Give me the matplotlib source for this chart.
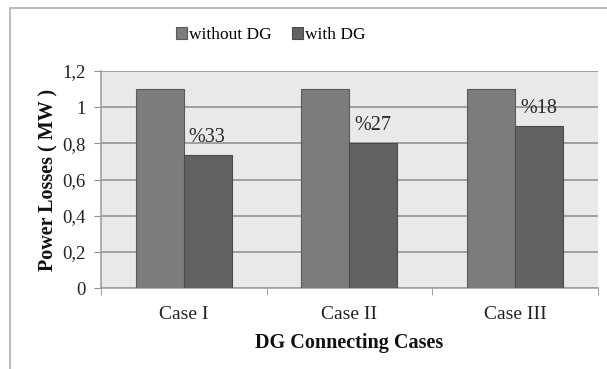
import matplotlib.pyplot as plt
from matplotlib.patches import Rectangle
import numpy as np

# Power losses per connecting case
cases = ['Case I', 'Case II', 'Case III']
without_dg = [1.1, 1.1, 1.1]
with_dg = [0.735, 0.80, 0.895]
reduction = ['%33', '%27', '%18']

plt.rcParams['font.family'] = 'Liberation Serif'

fig = plt.figure(figsize=(6.07, 3.69), dpi=100)
ax = fig.add_axes([0.1664, 0.2195, 0.8186, 0.588])

# outer chart frame
fig.patches.append(Rectangle((10 / 607, -0.1), 1.2, 1 - 8 / 369 + 0.1,
                             transform=fig.transFigure, fill=False,
                             edgecolor='#b0b0b0', linewidth=1.2))

x = np.arange(len(cases))
w = 0.29
b1 = ax.bar(x - w / 2, without_dg, w, color='#7c7c7c', edgecolor='#5a5a5a',
            linewidth=0.8, label='without DG', zorder=3)
b2 = ax.bar(x + w / 2, with_dg, w, color='#626262', edgecolor='#4a4a4a',
            linewidth=0.8, label='with DG', zorder=3)

for xi, v, t in zip(x, with_dg, reduction):
    ax.text(xi + 0.03, v + 0.1, t, fontsize=14.5, color='#2a2a2a',
            ha='left', va='center', zorder=4)

ax.set_facecolor('#e9e9e9')
ax.set_xlim(-0.5, 2.5)
ax.set_ylim(0, 1.2)
yt = np.arange(0, 1.21, 0.2)
ax.set_yticks(yt)
ax.set_yticklabels(['0' if v == 0 else ('1' if abs(v - 1) < 1e-9 else f'{v:.1f}'.replace('.', ','))
                    for v in yt], fontsize=13.5, color='#222222')
ax.yaxis.grid(True, color='#9a9a9a', linewidth=1.3, zorder=0)
ax.set_axisbelow(True)

ax.set_xticks(x)
ax.set_xticklabels(cases, fontsize=14, color='#222222')
ax.tick_params(axis='x', which='major', length=0, pad=13)
ax.set_xticks([-0.5, 0.5, 1.5, 2.5], minor=True)
ax.tick_params(axis='x', which='minor', length=5, color='#909090')
ax.tick_params(axis='y', length=5, color='#909090', pad=6)

for s in ['top', 'right']:
    ax.spines[s].set_visible(False)
for s in ['left', 'bottom']:
    ax.spines[s].set_color('#a0a0a0')
    ax.spines[s].set_linewidth(1.2)

ax.set_ylabel('Power Losses ( MW )', fontsize=14.5, fontweight='bold', labelpad=3, color='#111111')
ax.set_xlabel('DG Connecting Cases', fontsize=14.5, fontweight='bold', labelpad=7, color='#111111')

fig.legend(handles=[b1, b2], loc='center', bbox_to_anchor=(0.446, 0.905), ncol=2,
           frameon=False, fontsize=12.5, handlelength=0.65, handleheight=0.65,
           handletextpad=0.1, columnspacing=1.2)

fig.savefig('out.png', dpi=100)
